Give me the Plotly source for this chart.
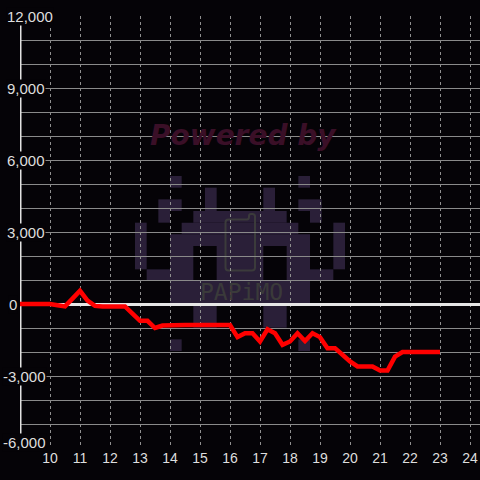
import plotly.graph_objects as go

# ---- data ----
hours = [9.0, 9.25, 9.5, 9.75, 10.0, 10.25, 10.5, 10.75, 11.0, 11.25, 11.5, 11.75,
         12.0, 12.25, 12.5, 12.75, 13.0, 13.25, 13.5, 13.75, 14.0, 14.25, 14.5, 14.75,
         15.0, 15.25, 15.5, 15.75, 16.0, 16.25, 16.5, 16.75, 17.0, 17.25, 17.5, 17.75,
         18.0, 18.25, 18.5, 18.75, 19.0, 19.25, 19.5, 19.75, 20.0, 20.25, 20.5, 20.75,
         21.0, 21.25, 21.5, 21.75, 22.0, 22.25, 22.5, 22.75, 23.0]
values = [0, 0, 0, 0, 0, -50, -100, 225, 550, 140, -80, -100,
          -100, -100, -100, -400, -700, -700, -1000, -900, -880, -880, -880, -880,
          -880, -880, -880, -880, -880, -1380, -1220, -1220, -1560, -1050, -1220, -1700,
          -1560, -1220, -1540, -1220, -1380, -1840, -1840, -2115, -2390, -2600, -2600, -2600,
          -2770, -2770, -2190, -2000, -2000, -2000, -2000, -2000, -2000]
x_ticks = [10, 11, 12, 13, 14, 15, 16, 17, 18, 19, 20, 21, 22, 23, 24]
y_ticks = [12000, 9000, 6000, 3000, 0, -3000, -6000]
y_tick_text = ["12,000", "9,000", "6,000", "3,000", "0", "-3,000", "-6,000"]

# ---- layout geometry (pixels of a 480x480 canvas) ----
W = H = 480
ML, MR, MT, MB = 20, 0, 16, 32
PW, PH = W - ML - MR, H - MT - MB
BG = "#050307"


def px(x):
    return (x - ML) / PW


def py(y):
    return (H - MB - y) / PH


fig = go.Figure()
fig.add_trace(go.Scatter(x=hours, y=values, mode="lines",
                         line=dict(color="#ff0000", width=4.5),
                         hoverinfo="skip", showlegend=False))

shapes = []
# watermark invader (pixel art)
cell = 210 / 18
ox, oy = 135, 176
blocks = [(3, 3, 0, 0), (14, 14, 0, 0), (6, 6, 1, 2), (11, 11, 1, 2),
          (2, 3, 2, 2), (14, 15, 2, 2), (2, 2, 3, 3), (15, 15, 3, 3),
          (5, 12, 3, 3), (4, 13, 4, 4), (0, 0, 4, 7), (17, 17, 4, 7),
          (3, 14, 5, 5), (3, 4, 6, 8), (7, 10, 6, 8), (13, 14, 6, 8),
          (1, 2, 8, 8), (15, 16, 8, 8), (3, 14, 9, 10),
          (5, 6, 11, 12), (11, 12, 11, 12), (3, 3, 14, 14), (14, 14, 14, 14)]
for c0, c1, r0, r1 in blocks:
    shapes.append(dict(type="rect", xref="paper", yref="paper", layer="below",
                       x0=px(ox + c0 * cell), x1=px(ox + (c1 + 1) * cell),
                       y0=py(oy + r0 * cell), y1=py(oy + (r1 + 1) * cell),
                       fillcolor="#2a1f38", line=dict(width=0)))

# phone outline
pts = [("M", 228.5, 219.5), ("L", 247, 219.5), ("Q", 249, 219.5, 249, 217),
       ("L", 249, 216), ("Q", 249, 214, 251, 214), ("L", 252.5, 214),
       ("Q", 255, 214, 255, 216.5), ("L", 255, 267.5), ("Q", 255, 270.5, 252, 270.5),
       ("L", 228.5, 270.5), ("Q", 225.5, 270.5, 225.5, 267.5), ("L", 225.5, 222.5),
       ("Q", 225.5, 219.5, 228.5, 219.5)]
path = ""
for p in pts:
    cmd, coords = p[0], p[1:]
    s = []
    for i in range(0, len(coords), 2):
        s.append(f"{px(coords[i]):.5f},{py(coords[i + 1]):.5f}")
    path += cmd + " " + " ".join(s) + " "
path += "Z"
shapes.append(dict(type="path", xref="paper", yref="paper", layer="below",
                   path=path, line=dict(color="#3b3b3b", width=2)))

# y axis line
shapes.append(dict(type="line", xref="x", yref="y", layer="between",
                   x0=9, x1=9, y0=-6000, y1=12000,
                   line=dict(color="#e2e2e2", width=3)))

annotations = [
    dict(text="<b><i>Powered by</i></b>", xref="paper", yref="paper",
         x=px(243), y=py(117), showarrow=False,
         font=dict(family="DejaVu Sans", size=28, color="#3a0f27")),
    dict(text="PAPiMO", xref="paper", yref="paper",
         x=px(241), y=py(292), showarrow=False,
         font=dict(family="DejaVu Sans Mono", size=23, color="#3a3a3a")),
]
for v, t in zip(y_ticks, y_tick_text):
    if v < 0:
        lx = 2
    elif v == 0:
        lx = 8
    else:
        lx = 6
    annotations.append(dict(text=t, xref="paper", yref="y", x=px(lx), y=v,
                            xanchor="left", yanchor="middle", showarrow=False,
                            yshift=6 if v == min(y_ticks) else 0,
                            bgcolor=BG, borderpad=0,
                            font=dict(family="Liberation Sans, Arial", size=15,
                                      color="#dedede")))

fig.update_layout(
    width=W, height=H,
    margin=dict(l=ML, r=MR, t=MT, b=MB),
    paper_bgcolor=BG, plot_bgcolor=BG,
    showlegend=False,
    shapes=shapes,
    annotations=annotations,
    xaxis=dict(range=[9, 9 + PW / 30], tickvals=x_ticks, showgrid=True,
               gridcolor="#8f8f8f", gridwidth=1, griddash="3px,3px",
               zeroline=False, showline=False, ticks="",
               tickfont=dict(family="Liberation Sans, Arial", size=14, color="#dedede")),
    yaxis=dict(range=[-6000, 12000], dtick=1000, showgrid=True,
               gridcolor="#8a8a8a", gridwidth=1, showticklabels=False,
               zeroline=True, zerolinecolor="#e6e6e6", zerolinewidth=3,
               showline=False, ticks=""),
)

fig.write_html("out.html", config={"displayModeBar": False},
               post_script="document.body.style.margin='0';document.body.style.background='%s';" % BG)
